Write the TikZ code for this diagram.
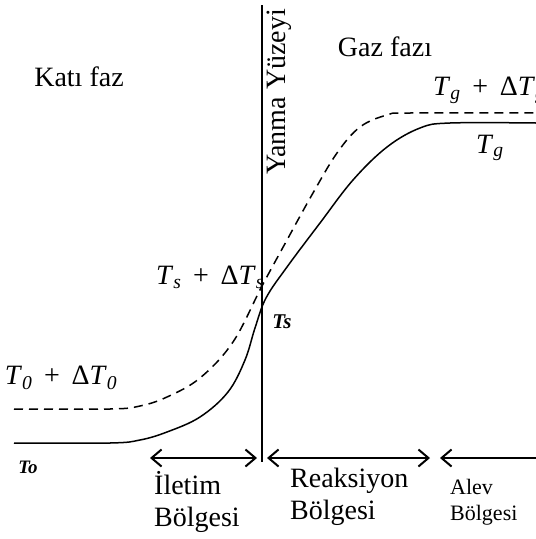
\documentclass[tikz,border=0pt]{standalone}
\usepackage{fontspec}
\setmainfont{Liberation Serif}
\usetikzlibrary{arrows.meta, positioning}

% italic temperature symbol with subscript
\newcommand{\tmp}[1]{\textit{T}\textsubscript{\textit{#1}}}

\tikzset{
  lbl/.style={font=\fontsize{28}{32}\selectfont, inner sep=1pt},
  small/.style={font=\fontsize{22}{26}\selectfont, inner sep=1pt},
  curve/.style={line width=1.5pt},
  barb/.tip={Straight Barb[length=10pt, width=17pt, line width=2pt]},
  region/.style={line width=1.3pt, barb-barb}
}

\begin{document}
\begin{tikzpicture}[x=1pt, y=-1pt]
\useasboundingbox (0,0) rectangle (536,539);

% Burning surface
\coordinate (top) at (262,5);
\coordinate (bot) at (262,462);
\draw[line width=1.2pt] (top) -- (bot);
\node[lbl, rotate=90] (surf) at (279,92) {Yanma Yüzeyi};

% Phases
\node[lbl] (solid) at (79,77) {Katı faz};
\node[lbl] (gas) at (385,47) {Gaz fazı};

% Temperature profile
\draw[curve] plot[smooth, tension=0.6] coordinates {(14,443) (110,443) (140,440) (167,432) (200,417) (228,392) (245,360) (255,328) (266,298) (287,267) (320,223) (353,180) (387,147) (420,128) (450,123) (536,123)};

% Perturbed profile
\draw[curve, dash pattern=on 9pt off 6pt] plot[smooth, tension=0.6] coordinates {(14,409) (110,409) (140,406) (167,397) (200,378) (233,342) (262,286) (287,240) (313,193) (337,153) (360,127) (387,115) (410,113) (536,113)};

% Labels
\node[lbl, anchor=west] (tg2) at (432,90) {\tmp{g} \,+\, Δ\tmp{g}};
\node[lbl] (tg) at (490,148) {\tmp{g}};
\node[lbl] (ts2) at (210,277) {\tmp{s} \,+\, Δ\tmp{s}};
\node[font=\fontsize{21}{24}\selectfont\bfseries\itshape] (ts) at (282,322) {Ts};
\node[lbl] (t02) at (61,378) {\tmp{0} \,+\, Δ\tmp{0}};
\node[font=\fontsize{19}{22}\selectfont\bfseries\itshape] (t0) at (28,467) {To};

% Regions
\coordinate (a1) at (150,458);
\coordinate (a2) at (257,458);
\coordinate (b1) at (267,458);
\coordinate (b2) at (430,458);
\coordinate (c1) at (440,458);
\coordinate (c2) at (540,458);
\draw[region] (a1) -- (a2);
\draw[region] (b1) -- (b2);
\draw[line width=1.3pt, -barb] (c2) -- (c1);

\node[lbl, anchor=north west, align=left] (cond) at (153,470) {İletim\\Bölgesi};
\node[lbl, anchor=north west, align=left] (react) at (289,467) {Reaksiyon\\Bölgesi};
\node[small, anchor=north west, align=left] (flame) at (449,478) {Alev\\Bölgesi};
\end{tikzpicture}
\end{document}
